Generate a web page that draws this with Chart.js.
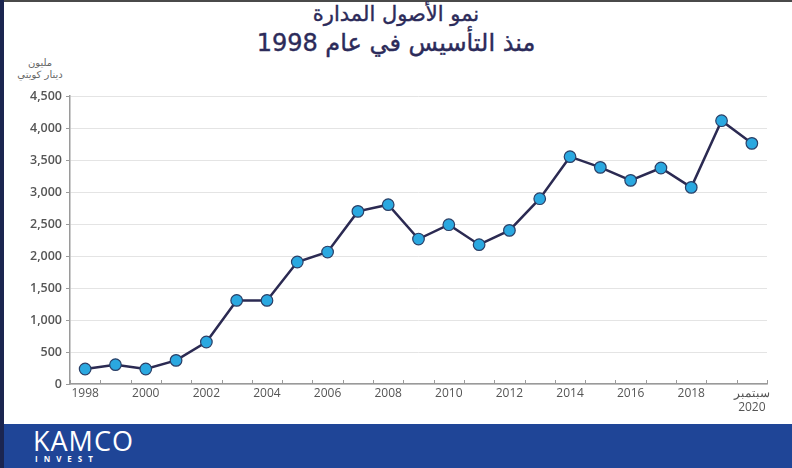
<!DOCTYPE html>
<html lang="ar">
<head>
<meta charset="utf-8">
<script src="https://cdn.jsdelivr.net/npm/chart.js@4/dist/chart.umd.min.js"></script>
<style>
  html, body { margin: 0; padding: 0; }
  body { width: 792px; height: 468px; position: relative; overflow: hidden; background: #fff; font-family: "Open Sans", "DejaVu Sans", sans-serif; }
  .frame-top { position: absolute; left: 0; top: 0; width: 792px; height: 2px; background: #4a4a4a; }
  .frame-left { position: absolute; left: 0; top: 0; width: 4px; height: 468px; background: #1b2550; }
  .title { position: absolute; left: 0; width: 792px; text-align: center; color: #2c2b5a; font-family: "DejaVu Sans", sans-serif; direction: rtl; -webkit-text-stroke: 0.4px #2c2b5a; }
  .t1 { top: 2px; font-size: 21px; }
  .t2 { top: 29px; font-size: 24px; }
  .ytitle { position: absolute; left: 10px; top: 57px; width: 60px; text-align: center; color: #666; font-family: "DejaVu Sans", sans-serif; font-size: 10px; line-height: 12px; direction: rtl; }
  .banner { position: absolute; left: 4px; top: 424px; width: 788px; height: 44px; background: #1f4597; }
  .logo { position: absolute; left: 33px; top: 427px; color: #fff; font-family: "Open Sans", sans-serif; font-size: 27px; letter-spacing: 1px; line-height: 27px; }
  .logo2 { position: absolute; left: 35px; top: 454px; color: #fff; font-family: "Open Sans", sans-serif; font-weight: 700; font-size: 8px; letter-spacing: 6px; line-height: 9px; }
  #wrap { position: absolute; left: 5px; top: 80px; width: 787px; height: 340px; }
</style>
</head>
<body>
<div class="frame-top"></div>
<div class="title t1">نمو الأصول المدارة</div>
<div class="title t2">منذ التأسيس في عام 1998</div>
<div class="ytitle">مليون<br>دينار كويتي</div>
<div id="wrap"><canvas id="assetsChart"></canvas></div>
<div class="banner"></div>
<div class="frame-left"></div>
<div class="logo">KAMCO</div>
<div class="logo2">INVEST</div>

<script>
// categories (one per year, last one is September 2020)
const years = ['1998', '', '2000', '', '2002', '', '2004', '', '2006', '', '2008', '', '2010', '', '2012', '', '2014', '', '2016', '', '2018', '', ['سبتمبر', '2020']];

// assets under management, million KWD
const assets = [234, 302, 234, 369, 656, 1306, 1306, 1906, 2062, 2697, 2802, 2265, 2489, 2177, 2400, 2895, 3552, 3385, 3182, 3375, 3072, 4114, 3760];

// y axis ticks
const yMax = 4500;
const yStep = 500;

// small upward tick marks between the categories on the x axis
const xTicksUp = {
    id: 'xTicksUp',
    afterDraw(chart) {
        const x = chart.scales.x;
        const ctx = chart.ctx;
        const bottom = chart.chartArea.bottom;
        ctx.save();
        ctx.strokeStyle = '#9a9a9a';
        ctx.lineWidth = 1;
        for (let i = 0; i <= years.length; i++) {
            const px = x.getPixelForValue(i) - (x.getPixelForValue(1) - x.getPixelForValue(0)) / 2;
            ctx.beginPath();
            ctx.moveTo(Math.round(px) + 0.5, bottom);
            ctx.lineTo(Math.round(px) + 0.5, bottom - 4);
            ctx.stroke();
        }
        ctx.restore();
    }
};

document.addEventListener('DOMContentLoaded', function() {
    const ctx = document.getElementById('assetsChart').getContext('2d');
    new Chart(ctx, {
        type: 'line',
        data: {
            labels: years,
            datasets: [{
                data: assets,
                borderColor: '#2b2a52',
                borderWidth: 2.5,
                tension: 0,
                pointBackgroundColor: '#2aa8e0',
                pointBorderColor: '#2b3f66',
                pointBorderWidth: 1.2,
                pointRadius: 5.8
            }]
        },
        options: {
            responsive: true,
            maintainAspectRatio: false,
            animation: false,
            layout: { padding: { top: 16, right: 25, left: 0, bottom: 0 } },
            plugins: {
                legend: { display: false },
                tooltip: { enabled: false }
            },
            scales: {
                y: {
                    min: 0,
                    max: yMax,
                    afterFit: function(scale) { scale.width = 65; },
                    ticks: {
                        stepSize: yStep,
                        padding: 4,
                        color: '#555',
                        font: { family: 'Open Sans', size: 12.5, weight: '600' },
                        callback: function(value) { return value.toLocaleString('en-US'); }
                    },
                    grid: {
                        color: '#e4e4e4',
                        tickColor: '#9a9a9a',
                        tickLength: 4
                    },
                    border: { color: '#9a9a9a', width: 1.5 }
                },
                x: {
                    offset: true,
                    afterFit: function(scale) { scale.height = 36; },
                    ticks: {
                        autoSkip: false,
                        maxRotation: 0,
                        padding: 2,
                        color: '#555',
                        font: { family: 'Open Sans', size: 12 }
                    },
                    grid: { display: false, drawTicks: false },
                    border: { color: '#9a9a9a', width: 1.5 }
                }
            }
        },
        plugins: [xTicksUp]
    });
});
</script>
</body>
</html>
